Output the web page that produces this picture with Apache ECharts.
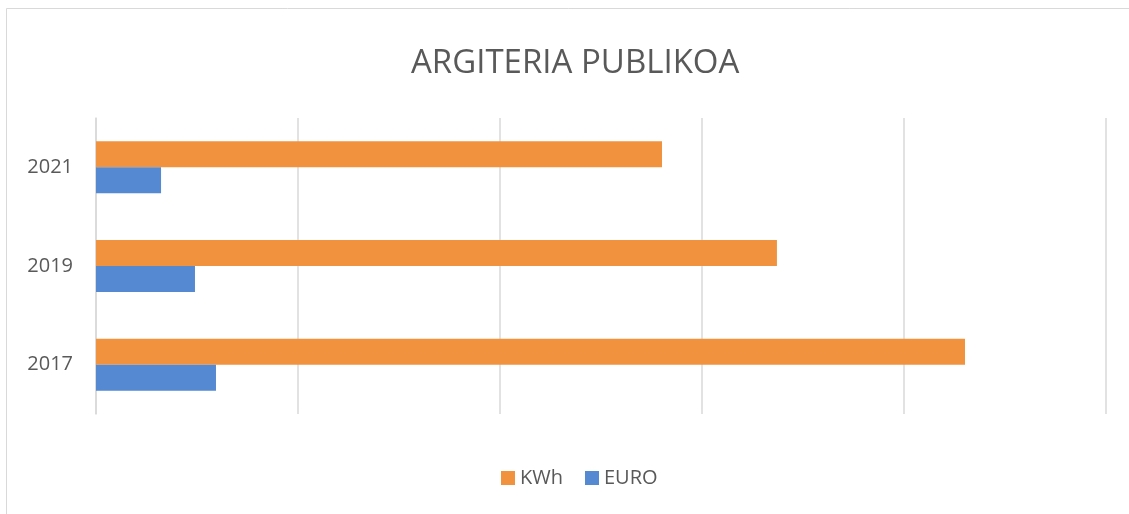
<!DOCTYPE html>
<html>
<head>
<meta charset="utf-8">
<script src="https://cdn.jsdelivr.net/npm/echarts@6/dist/echarts.min.js"></script>
<style>
  html, body { margin: 0; padding: 0; background: #fff; }
  #chart { width: 1129px; height: 514px; }
</style>
</head>
<body>
<div id="chart"></div>
<script>
// data (no axis values shown, scale is relative)
const years = ["2017", "2019", "2021"];
const kwhValues = [430200, 337100, 280200];
const euroValues = [59400, 49000, 32200];

const chart = echarts.init(document.getElementById("chart"));
chart.setOption({
  backgroundColor: "#ffffff",
  textStyle: { fontFamily: "Open Sans, Liberation Sans, sans-serif" },
  title: {
    text: "ARGITERIA PUBLIKOA",
    left: 406,
    top: 42,
    textStyle: { color: "#595959", fontSize: 33, fontWeight: "normal" },
  },
  graphic: [
    {
      type: "rect",
      shape: { x: 6.5, y: 8.5, width: 1200, height: 600 },
      style: { fill: "none", stroke: "#d9d9d9", lineWidth: 1 },
      silent: true,
    },
  ],
  legend: {
    data: ["KWh", "EURO"],
    top: 463,
    left: 496,
    itemWidth: 14,
    itemHeight: 14,
    itemGap: 22,
    icon: "rect",
    textStyle: { color: "#595959", fontSize: 20 },
  },
  grid: { left: 96, right: 23, top: 118, bottom: 100, containLabel: false },
  xAxis: {
    type: "value",
    min: 0,
    max: 500000,
    interval: 100000,
    axisLabel: { show: false },
    axisLine: { show: false },
    axisTick: { show: false },
    splitLine: { show: true, lineStyle: { color: "#d9d9d9", width: 1.5 } },
  },
  yAxis: {
    type: "category",
    data: years,
    axisLine: { show: true, lineStyle: { color: "#d9d9d9", width: 1.5 } },
    axisTick: { show: false },
    axisLabel: { color: "#595959", fontSize: 20, margin: 23 },
  },
  series: [
    {
      name: "KWh",
      type: "bar",
      data: kwhValues,
      barWidth: 26,
      barGap: "0%",
      itemStyle: { color: "#f1923f" },
    },
    {
      name: "EURO",
      type: "bar",
      data: euroValues,
      barWidth: 26,
      barGap: "0%",
      itemStyle: { color: "#5589d1" },
    },
  ],
});
</script>
</body>
</html>
